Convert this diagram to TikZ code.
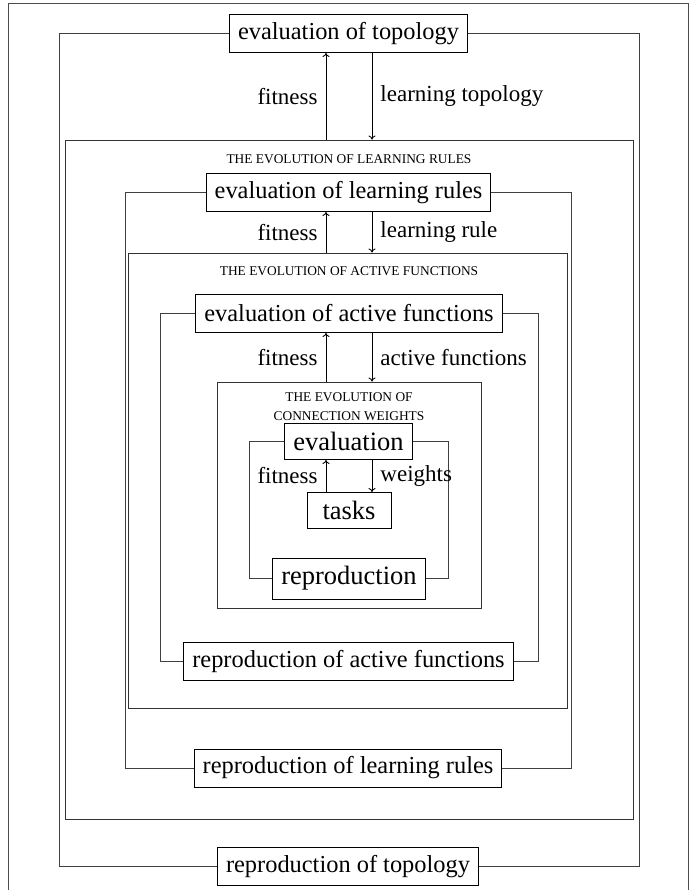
\documentclass[tikz,border=0pt]{standalone}
\usepackage{fontspec}
\setmainfont{Liberation Serif}
\usetikzlibrary{arrows.meta,positioning}
\tikzset{
  stage/.style={draw=black,line width=0.9pt,inner xsep=8.5pt,inner ysep=0pt,minimum height=38pt,font=\fontsize{24.4}{28}\selectfont},
  cwstage/.style={stage,minimum height=36pt,font=\fontsize{26.5}{30}\selectfont},
  evobox/.style={draw=black!80,line width=0.9pt,inner sep=0pt},
  cycleline/.style={draw=black!75,line width=0.9pt},
  lbl/.style={font=\fontsize{23}{26}\selectfont,inner sep=8pt},
  evotitle/.style={font=\fontsize{13.4}{19}\selectfont,align=center,inner sep=0pt},
  arrow/.style={-{To[length=4pt,width=7pt]},line width=0.9pt,draw=black}
}
\begin{document}
\begin{tikzpicture}[x=1pt,y=-1pt]
    \useasboundingbox (0,0) rectangle (696,890);
    \draw[black!70,line width=0.9pt] (8,3) rectangle (688,896);
    % x of the two vertical arrows and of the cycle lines
    \coordinate (fitx) at (326,0);
    \coordinate (sendx) at (372,0);
    \coordinate (topoL) at (59,0);   \coordinate (topoR) at (639,0);
    \coordinate (lrL) at (125,0);    \coordinate (lrR) at (571,0);
    \coordinate (afL) at (160,0);    \coordinate (afR) at (538,0);
    \coordinate (cwL) at (249,0);    \coordinate (cwR) at (448,0);

    % topology
    \node[stage] (evaltopo) at (348.5,33.5) {evaluation of topology};
    \node[stage] (reprotopo) at (348,866.5) {reproduction of topology};

    % learning rules
    \node[evobox,minimum width=568pt,minimum height=679pt] (lrbox) at (349,479.5) {};
    \node[evotitle] (lrtitle) at (349,159) {THE EVOLUTION OF LEARNING RULES};
    \node[stage] (evallr) at (348.5,192.5) {evaluation of learning rules};
    \node[stage] (reprolr) at (348,768) {reproduction of learning rules};

    % active functions
    \node[evobox,minimum width=439pt,minimum height=455pt] (afbox) at (347.5,480.5) {};
    \node[evotitle] (aftitle) at (349,271) {THE EVOLUTION OF ACTIVE FUNCTIONS};
    \node[stage] (evalaf) at (349,313.5) {evaluation of active functions};
    \node[stage] (reproaf) at (348.5,661.5) {reproduction of active functions};

    % connection weights
    \node[evobox,minimum width=264pt,minimum height=226pt] (cwbox) at (349,495) {};
    \node[evotitle] (cwtitle) at (349,406.5) {THE EVOLUTION OF\\CONNECTION WEIGHTS};
    \node[cwstage] (evalcw) at (348.5,441.5) {evaluation};
    \node[cwstage,minimum width=84pt] (tasks) at (349,510.5) {tasks};
    \node[cwstage,minimum height=41pt] (reprocw) at (349,578.5) {reproduction};

    % cycles
    \draw[cycleline] (evaltopo.west) -- (evaltopo.west -| topoL) -- (reprotopo.west -| topoL) -- (reprotopo.west);
    \draw[cycleline] (evaltopo.east) -- (evaltopo.east -| topoR) -- (reprotopo.east -| topoR) -- (reprotopo.east);
    \draw[cycleline] (evallr.west) -- (evallr.west -| lrL) -- (reprolr.west -| lrL) -- (reprolr.west);
    \draw[cycleline] (evallr.east) -- (evallr.east -| lrR) -- (reprolr.east -| lrR) -- (reprolr.east);
    \draw[cycleline] (evalaf.west) -- (evalaf.west -| afL) -- (reproaf.west -| afL) -- (reproaf.west);
    \draw[cycleline] (evalaf.east) -- (evalaf.east -| afR) -- (reproaf.east -| afR) -- (reproaf.east);
    \draw[cycleline] (evalcw.west) -- (evalcw.west -| cwL) -- (reprocw.west -| cwL) -- (reprocw.west);
    \draw[cycleline] (evalcw.east) -- (evalcw.east -| cwR) -- (reprocw.east -| cwR) -- (reprocw.east);

    % fitness up, parameters down
    \draw[arrow] (lrbox.north -| fitx) -- node[lbl,left] {fitness} (evaltopo.south -| fitx);
    \draw[arrow] (evaltopo.south -| sendx) -- node[lbl,right] {learning topology} (lrbox.north -| sendx);
    \draw[arrow] (afbox.north -| fitx) -- node[lbl,left] {fitness} (evallr.south -| fitx);
    \draw[arrow] (evallr.south -| sendx) -- node[lbl,right] {learning rule} (afbox.north -| sendx);
    \draw[arrow] (cwbox.north -| fitx) -- node[lbl,left] {fitness} (evalaf.south -| fitx);
    \draw[arrow] (evalaf.south -| sendx) -- node[lbl,right] {active functions} (cwbox.north -| sendx);
    \draw[arrow] (tasks.north -| fitx) -- node[lbl,left] {fitness} (evalcw.south -| fitx);
    \draw[arrow] (evalcw.south -| sendx) -- node[lbl,right] {weights} (tasks.north -| sendx);
  \end{tikzpicture}
\end{document}
